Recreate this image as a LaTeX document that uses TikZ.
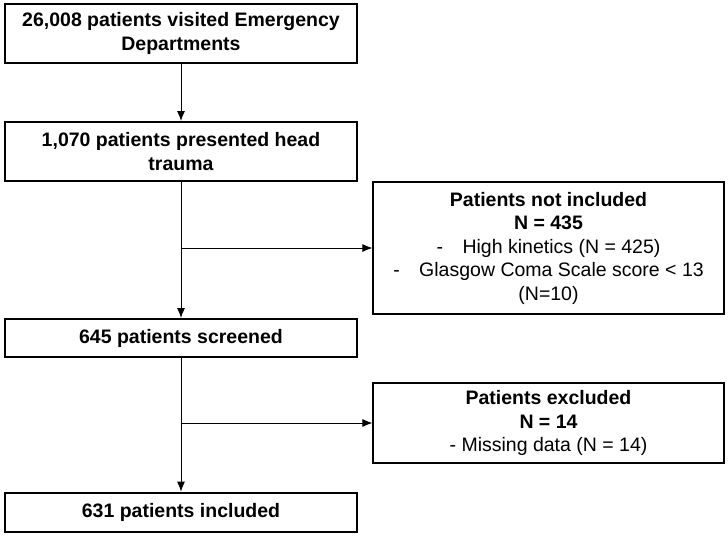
\documentclass[tikz,border=0pt]{standalone}
\usepackage{fontspec}
\setmainfont{Liberation Sans}
\usetikzlibrary{arrows.meta}

\begin{document}
\begin{tikzpicture}[
    x=1pt, y=-1pt,
    every node/.style={font=\fontsize{19.5}{23.5}\selectfont, align=center, inner sep=0pt},
    >={Latex[length=10pt,width=8pt]},
    stagebox/.style={draw=black, line width=2pt, minimum width=352pt, font=\fontsize{19.5}{24}\selectfont\bfseries},
    sidebox/.style={draw=black, line width=1.2pt, minimum width=351pt},
    link/.style={->, line width=0.9pt}
]

% Page frame
\useasboundingbox (0,0) rectangle (728,536);

% === Main flow (left column) ===
\node[stagebox, minimum height=59pt] (visited) at (181,33.5)
    {26,008 patients visited Emergency\\Departments};
\node[stagebox, minimum height=59pt] (trauma) at (181,151.5)
    {1,070 patients presented head\\trauma};
\node[stagebox, minimum height=38pt] (screened) at (181,338)
    {645 patients screened};
\node[stagebox, minimum height=39pt, line width=2.8pt] (included) at (181,512.5)
    {631 patients included};

% === Side boxes (right column) ===
\node[sidebox, minimum height=132pt] (notincl) at (548.5,248)
    {\textbf{Patients not included}\\\textbf{N = 435}\\
     -\quad High kinetics (N = 425)\\
     -\quad Glasgow Coma Scale score < 13\\(N=10)};
\node[sidebox, minimum height=80pt] (excl) at (548.5,423)
    {\textbf{Patients excluded}\\\textbf{N = 14}\\- Missing data (N = 14)};

% === Connectors ===
\draw[link] (visited) -- (trauma);
\draw[link] (trauma) -- (screened);
\draw[link] (screened) -- (included);

% branches to the side boxes
\coordinate (split1) at (trauma.south |- notincl.west);
\coordinate (split2) at (screened.south |- excl.west);
\draw[link] (split1) -- (notincl.west);
\draw[link] (split2) -- (excl.west);

\end{tikzpicture}
\end{document}
